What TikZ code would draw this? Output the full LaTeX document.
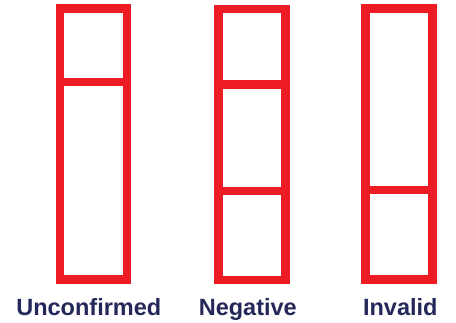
\documentclass[tikz,border=0pt]{standalone}
\usepackage{fontspec}
\setmainfont{Liberation Sans}
\usetikzlibrary{positioning}
\definecolor{StripRed}{RGB}{237,28,36}
\definecolor{LabelNavy}{RGB}{36,40,88}
\tikzset{
  strip/.style={draw=StripRed,line width=8.5pt,minimum width=67pt,minimum height=271pt,inner sep=0pt},
  divider/.style={StripRed,line width=8.5pt},
  result/.style={anchor=base,text=LabelNavy,font=\fontsize{23.5}{28}\selectfont\bfseries,inner sep=0pt}
}
\begin{document}
\begin{tikzpicture}[x=1pt,y=-1pt]
      \useasboundingbox (0,0) rectangle (456,322);
      % three test strips
      \node[strip] (unconf) at (93.3,144) {};
      \node[strip] (neg) at (251.9,144.5) {};
      \node[strip] (inval) at (399,144) {};
      % lines
      \draw[divider] (unconf.west |- 0,82) -- (unconf.east |- 0,82);
      \draw[divider] (neg.west |- 0,84.5) -- (neg.east |- 0,84.5);
      \draw[divider] (neg.west |- 0,191) -- (neg.east |- 0,191);
      \draw[divider] (inval.west |- 0,190) -- (inval.east |- 0,190);
      % labels
      \node[result] (unconflbl) at (88.8,315) {Unconfirmed};
      \node[result] (neglbl) at (247.8,315) {Negative};
      \node[result] (invallbl) at (400.3,315) {Invalid};
    \end{tikzpicture}
\end{document}
